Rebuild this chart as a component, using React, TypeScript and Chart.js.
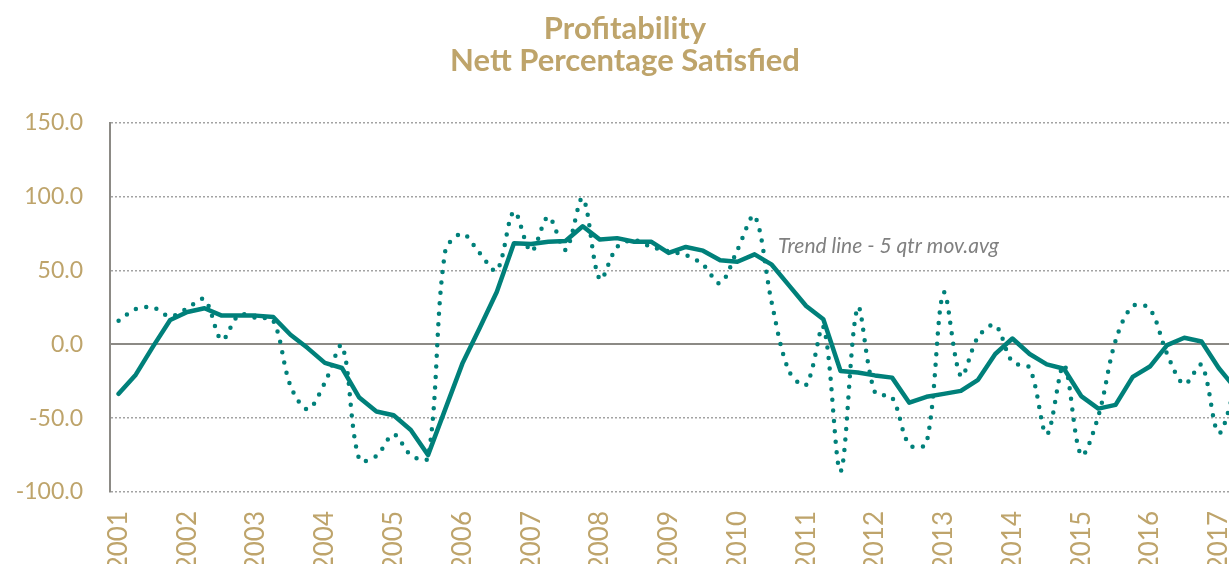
import React, { useEffect, useRef } from "react";
import { Chart, registerables } from "chart.js";

Chart.register(...registerables);

// ---- data ----
const YEAR_LABELS = [
  "2001", "2002", "2003", "2004", "2005", "2006", "2007", "2008", "2009",
  "2010", "2011", "2012", "2013", "2014", "2015", "2016", "2017",
];

// quarterly nett percentage satisfied, from 2001 Q1
const QUARTERLY = [
  16, 24, 25, 19, 24.5, 30.5, 3, 20, 18, 16,
  -28, -44, -26, -1, -78, -75.5, -61, -75, -77, 63,
  75, 62, 50, 90, 63, 86.5, 64, 99, 44, 66,
  70.5, 66, 63, 60.5, 54, 41.5, 64, 87, 28, -18,
  -27.5, 12, -86, 25, -32.5, -36, -68, -67, 35, -21.5,
  5, 13, -12, -16, -61, -14, -75, -48.5, 2.5, 26,
  24, -6.5, -27, -14, -60, -28,
];

// 5 quarter moving average (trend line)
const MOVING_AVG = [
  -33.5, -20.5, -1.5, 16.5, 22, 24.5, 19.5, 19.5, 19.5, 18.5,
  6.5, -2.5, -12.5, -16, -36, -45.5, -48, -58, -75, -44,
  -13, 11, 35.5, 68.5, 68, 69.5, 70, 80, 71, 72,
  69.5, 69.5, 62, 66, 63.5, 57, 56, 61, 54, 40,
  26, 17, -18, -19, -21, -22.5, -39.5, -35.5, -33.5, -31.5,
  -24, -6.5, 4, -6.5, -13.5, -16.5, -35, -43.5, -41, -22,
  -15, -0.5, 4.5, 2, -16, -30,
];

const Y_TICKS = [-100, -50, 0, 50, 100, 150];
const TITLE_LINES = ["Profitability", "Nett Percentage Satisfied"];
const NOTE = "Trend line - 5 qtr mov.avg";

// ---- styles ----
const TEAL = "#00807A";
const GOLD = "#BEA46B";
const AXIS_GREY = "#8C8A85";
const GRID_GREY = "#A3A3A3";
const FONT = "Lato, 'Liberation Sans', sans-serif";
const W = 1229;
const H = 600;

const textPlugin = {
  id: "chartTexts",
  afterDraw(chart: any) {
    const ctx = chart.ctx as CanvasRenderingContext2D;
    ctx.save();
    ctx.fillStyle = GOLD;
    ctx.font = `bold 31px ${FONT}`;
    ctx.textAlign = "center";
    ctx.textBaseline = "alphabetic";
    ctx.fillText(TITLE_LINES[0], 625, 39);
    ctx.fillText(TITLE_LINES[1], 625, 71);
    ctx.font = `italic 21px ${FONT}`;
    ctx.fillStyle = "#808080";
    ctx.textAlign = "left";
    ctx.fillText(NOTE, 778, 253);
    ctx.restore();
  },
};

export default function App() {
  const canvasRef = useRef<HTMLCanvasElement | null>(null);

  useEffect(() => {
    if (!canvasRef.current) return;
    const toPoints = (arr: number[]) => arr.map((v, i) => ({ x: i, y: v }));
    const chart = new Chart(canvasRef.current, {
      type: "line",
      data: {
        datasets: [
          {
            label: "Trend line - 5 qtr mov.avg",
            data: toPoints(MOVING_AVG),
            borderColor: TEAL,
            backgroundColor: TEAL,
            borderWidth: 4.5,
            pointRadius: 0,
            tension: 0,
            borderJoinStyle: "round",
            borderCapStyle: "round",
          },
          {
            label: "Nett percentage satisfied",
            data: toPoints(QUARTERLY),
            borderColor: TEAL,
            backgroundColor: TEAL,
            borderWidth: 4.5,
            borderDash: [0, 10.5],
            borderCapStyle: "round",
            pointRadius: 0,
            tension: 0.33,
          },
        ],
      },
      options: {
        responsive: false,
        animation: false,
        devicePixelRatio: 1,
        layout: { padding: { top: 123, left: 0, right: 0, bottom: 0 } },
        plugins: {
          legend: { display: false },
          tooltip: { enabled: false },
          title: { display: false },
        },
        scales: {
          x: {
            type: "linear",
            min: -0.5,
            max: 64.6,
            afterBuildTicks: (s: any) => {
              s.ticks = YEAR_LABELS.map((_, i) => ({ value: i * 4 }));
            },
            afterFit: (s: any) => {
              s.height = H - 492;
              s.paddingLeft = 0;
              s.paddingRight = 0;
            },
            ticks: {
              autoSkip: false,
              minRotation: 90,
              maxRotation: 90,
              padding: 19,
              color: GOLD,
              font: { family: FONT, size: 26 },
              callback: (_v: any, i: number) => YEAR_LABELS[i],
            },
            grid: { display: false, drawTicks: false },
            border: { display: false },
          },
          y: {
            type: "linear",
            min: -100,
            max: 150,
            afterBuildTicks: (s: any) => {
              s.ticks = Y_TICKS.map((v) => ({ value: v }));
            },
            afterFit: (s: any) => {
              s.width = 110;
            },
            ticks: {
              padding: 27,
              color: GOLD,
              font: { family: FONT, size: 23 },
              callback: (v: any) => Number(v).toFixed(1),
            },
            grid: {
              drawTicks: false,
              color: (c: any) => (c.tick && c.tick.value === 0 ? AXIS_GREY : GRID_GREY),
              lineWidth: (c: any) => (c.tick && c.tick.value === 0 ? 2 : 1.5),
            },
            border: {
              display: true,
              color: AXIS_GREY,
              width: 2,
              dash: (c: any) => (c.tick && c.tick.value !== 0 ? [2, 2] : []),
            },
          },
        },
      },
      plugins: [textPlugin],
    } as any);
    return () => chart.destroy();
  }, []);

  return (
    <div
      style={{
        position: "fixed",
        left: 0,
        top: 0,
        width: W,
        height: 564,
        overflow: "hidden",
        background: "#ffffff",
      }}
    >
      <canvas ref={canvasRef} width={W} height={H} style={{ display: "block" }} />
    </div>
  );
}
